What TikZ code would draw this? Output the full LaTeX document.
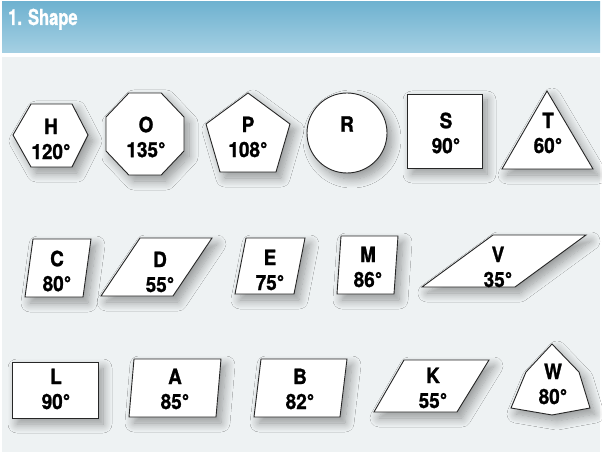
\documentclass[tikz,border=0pt]{standalone}
\usepackage{fontspec}
\usepackage{tikz}
\usetikzlibrary{shadows.blur}
\newfontfamily\labelfont[FakeStretch=0.9, FakeBold=1.2]{TeX Gyre Heros}
\newfontfamily\titlefont[FakeStretch=0.75, FakeBold=1]{TeX Gyre Heros}
\definecolor{headtop}{HTML}{6FB2D0}
\definecolor{headbot}{HTML}{A5D0E3}
\definecolor{panelgray}{HTML}{EEF2F3}

\begin{document}
\begin{tikzpicture}[x=1pt,y=-1pt,
  tile/.style={draw=black!85, line width=0.9pt, fill=white,
    blur shadow={shadow xshift=5pt, shadow yshift=-6pt, shadow blur radius=9pt,
      shadow blur steps=14, shadow opacity=38}},
  lbl/.style={align=center, inner sep=0pt, font=\labelfont\bfseries\fontsize{21}{25}\selectfont}]
  \useasboundingbox (0,0) rectangle (602,454);
  \fill[white] (0,0) rectangle (602,454);
  \shade[top color=headtop, bottom color=headbot] (2,2) rectangle (600,53);
  \fill[panelgray] (2,57) rectangle (600,452);
  \node[anchor=base west, inner sep=0pt, text=white,
    font=\titlefont\bfseries\fontsize{22}{24}\selectfont] (title) at (8,25) {1. Shape};

  % row 1
  \draw[tile] (13,135) -- (31,104) -- (72,104) -- (88,135) -- (72,167) -- (31,167) -- cycle;
  \node[lbl] (hex) at (51,139) {H\\120°};

  \draw[tile] (128.8,93) -- (161.2,93) -- (184,117) -- (184,151) -- (161.2,175)
    -- (128.8,175) -- (106,151) -- (106,117) -- cycle;
  \node[lbl] (oct) at (146,137) {O\\135°};

  \draw[tile] (248,93) -- (290,124) -- (276,172) -- (220,172) -- (206,124) -- cycle;
  \node[lbl] (pent) at (248,137) {P\\108°};

  \draw[tile] (347,133) circle[radius=40pt];
  \node[lbl] (round) at (347,124) {R};

  \draw[tile] (407,94) rectangle (482,168);
  \node[lbl] (square) at (446,133) {S\\90°};

  \draw[tile] (547,91) -- (593,169) -- (502,169) -- cycle;
  \node[lbl] (tri) at (548,133) {T\\60°};

  % row 2
  \draw[tile] (33,239) -- (91,239) -- (83,297) -- (25,297) -- cycle;
  \node[lbl] (c80) at (57,271) {C\\80°};

  \draw[tile] (140,238) -- (212,238) -- (173,296) -- (101,296) -- cycle;
  \node[lbl] (d55) at (160,272) {D\\55°};

  \draw[tile] (246,238) -- (305,238) -- (294,294) -- (235,294) -- cycle;
  \node[lbl] (e75) at (270,270) {E\\75°};

  \draw[tile] (341,236) -- (398,236) -- (394,294) -- (337,294) -- cycle;
  \node[lbl] (m86) at (368,267) {M\\86°};

  \draw[tile] (493,235) -- (586,235) -- (515,287) -- (422,287) -- cycle;
  \node[lbl] (v35) at (498,267) {V\\35°};

  % row 3
  \draw[tile] (12,362) rectangle (98,418);
  \node[lbl] (l90) at (56,389) {L\\90°};

  \draw[tile] (134,359) -- (221,359) -- (216,417) -- (129,417) -- cycle;
  \node[lbl] (a85) at (175,389) {A\\85°};

  \draw[tile] (261,359) -- (347,359) -- (340,417) -- (254,417) -- cycle;
  \node[lbl] (b82) at (300,389) {B\\82°};

  \draw[tile] (404,360) -- (489,360) -- (457,412) -- (374,412) -- cycle;
  \node[lbl] (k55) at (433,388) {K\\55°};

  \draw[tile] (552,344) -- (579,372) -- (590,408) -- (552,415) -- (511,408) -- (526,372) -- cycle;
  \node[lbl] (w80) at (553,384) {W\\80°};
\end{tikzpicture}
\end{document}
